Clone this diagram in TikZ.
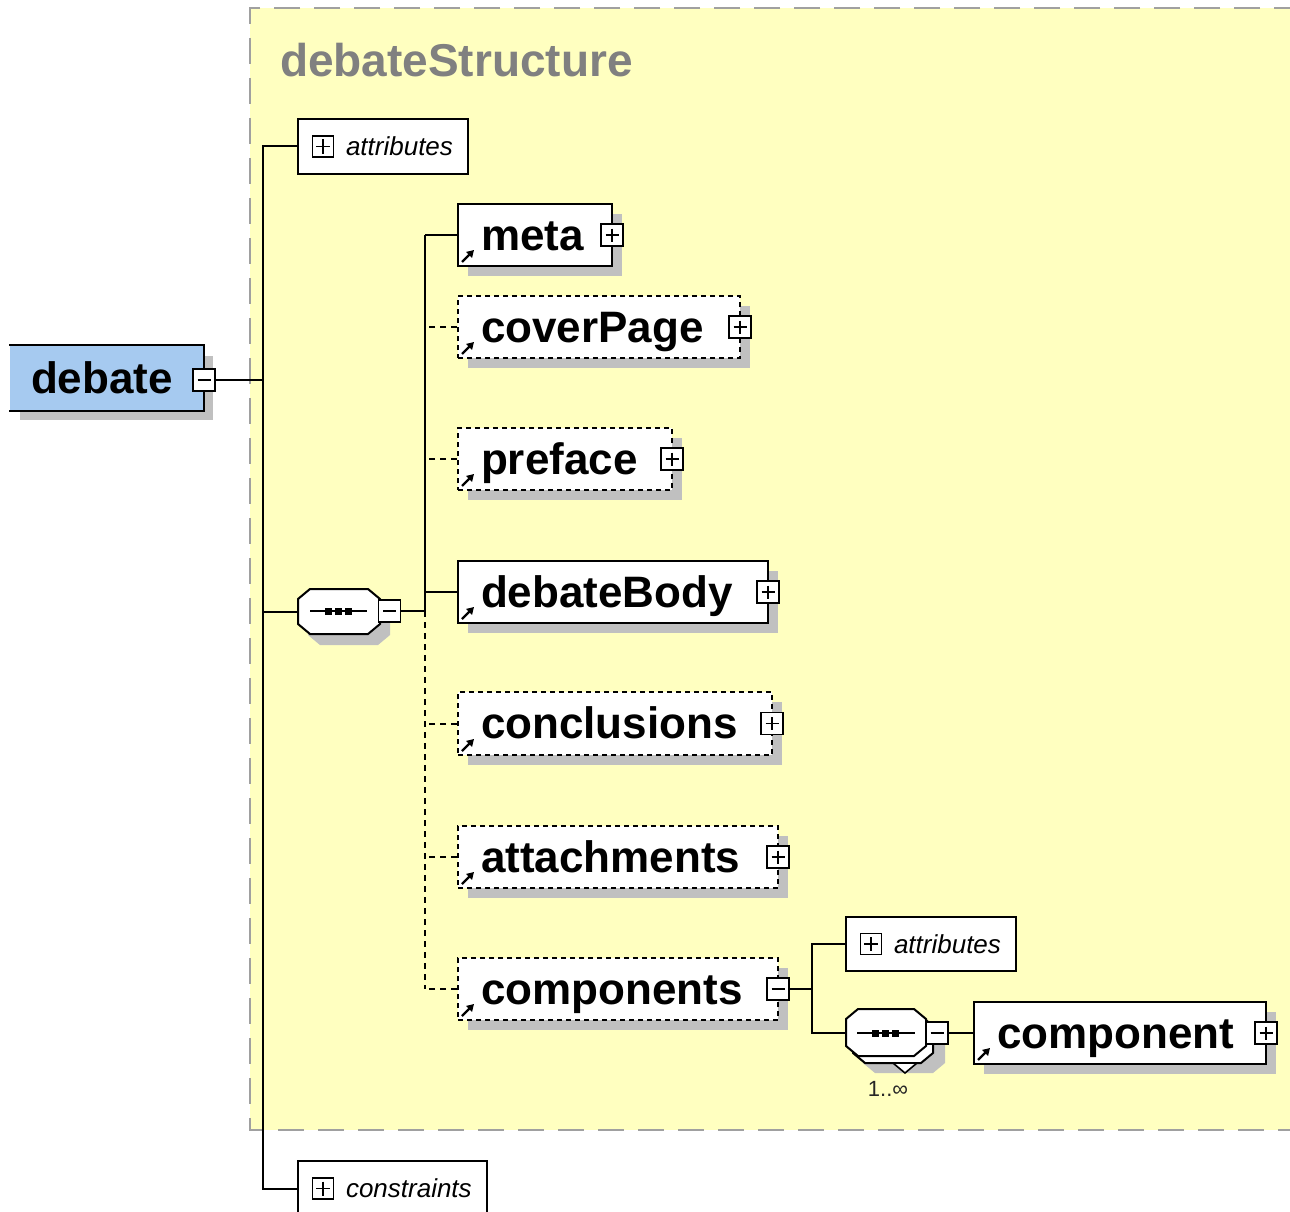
\documentclass[tikz,border=0pt]{standalone}
\usepackage{fontspec}
\setmainfont{Liberation Sans}
\usetikzlibrary{arrows.meta}
\definecolor{ylw}{RGB}{255,255,192}
\definecolor{shd}{RGB}{192,192,192}
\definecolor{blu}{RGB}{166,202,240}
\definecolor{brd}{RGB}{160,160,160}
\definecolor{ttl}{RGB}{128,128,128}
\tikzset{
  etext/.style={font=\fontsize{44}{50}\selectfont\bfseries, inner sep=0},
  ttext/.style={font=\fontsize{46}{50}\selectfont\bfseries, text=ttl, inner sep=0},
  atext/.style={font=\fontsize{26}{30}\selectfont\itshape, inner sep=0},
  ctext/.style={font=\fontsize{22}{24}\selectfont, text=black!85, inner sep=0},
  ebox/.style={draw, fill=white, inner sep=0, line width=2pt},
  solidbox/.style={},
  dashbox/.style={dash pattern=on 5pt off 4pt},
  dsh/.style={dash pattern=on 6pt off 5pt},
  pmbox/.style={draw, fill=white, minimum size=22pt, inner sep=0, line width=1.8pt},
  conn/.style={line width=2pt},
  icon/.style={line width=2.2pt, -{Triangle[length=7pt,width=8pt]}},
}
\newcommand\pmark[4]{%
  \node[pmbox] (#1) at (#2,#3) {};
  \draw[line width=1.8pt] (#1.center) +(-6.5,0) -- +(6.5,0);
  \ifnum#4=1 \draw[line width=1.8pt] (#1.center) +(0,-6.5) -- +(0,6.5);\fi
}
\newcommand\elembox[8]{%
  \fill[shd] (#2+10,#3+10) rectangle (#4+10,#5+10);
  \node[ebox,#6,minimum width={(#4)-(#2)},minimum height={(#5)-(#3)}] (#1) at ({((#2)+(#4))/2},{((#3)+(#5))/2}) {};
  \node[etext,anchor=base west] (#1-t) at ({(#2)+22},{((#3)+(#5))/2+15}) {#7};
  \draw[icon] ({(#2)+4},{(#5)-4}) -- ++(12,-12);
  \pmark{#1-pm}{#4}{{((#3)+(#5))/2}}{#8}
}
\newcommand\attrbox[6]{%
  \node[draw, fill=white, inner sep=0, line width=2pt, minimum width={(#4)-(#2)}, minimum height={(#5)-(#3)}] (#1) at ({((#2)+(#4))/2},{((#3)+(#5))/2}) {};
  \node[pmbox, minimum size=21pt] (#1-pm) at ({(#2)+25},{((#3)+(#5))/2}) {};
  \draw[line width=1.8pt] (#1-pm.center) +(-7,0) -- +(7,0) +(0,-7) -- +(0,7);
  \node[atext, anchor=base west] (#1-t) at ({(#2)+47},{((#3)+(#5))/2+9}) {#6};
}
\newcommand\octa[5]{%
  \draw[#5] (#1+12,#2) -- (#3-12,#2) -- (#3,#2+10) -- (#3,#4-10) -- (#3-12,#4) -- (#1+12,#4) -- (#1,#4-10) -- (#1,#2+10) -- cycle;
}
\newcommand\seqline[4]{% x1 x2 y dotx
  \draw[line width=1.8pt] (#1,#3) -- (#2,#3);
  \foreach \dx in {0,10,20} {\fill ({#4+\dx-3.5},{#3-3.5}) rectangle ({#4+\dx+3.5},{#3+3.5});}
}
\begin{document}
\begin{tikzpicture}[x=1pt,y=-1pt, line width=2pt]
\useasboundingbox (0,0) rectangle (1290,1212);
\clip (0,0) rectangle (1290,1212);
\fill[white] (0,0) rectangle (1290,1212);
% yellow region
\fill[ylw] (250,8) rectangle (1300,1130);
\draw[brd, line width=2pt, dash pattern=on 26pt off 14pt] (1300,8) -- (250,8) -- (250,1130) -- (1300,1130);
\node[ttext, anchor=base west] (title) at (279,77) {debateStructure};

% debate root
\fill[shd] (20,356) rectangle (213,420);
\node[fill=blu, minimum width=193, minimum height=64, inner sep=0] (debate) at (106.5,378) {};
\draw (debate.north west) -- (debate.north east) -- (debate.south east) -- (debate.south west);
\node[etext, anchor=base west] (debate-t) at (30,393) {debate};
\pmark{debate-pm}{204}{380}{0}

% top-level attributes / constraints
\attrbox{attr1}{298}{119}{468}{174}{attributes}
\attrbox{constr}{298}{1161}{487}{1216}{constraints}

% sequence 1
\octa{308}{600}{390}{645}{fill=shd,draw=none}
\octa{298}{589}{380}{634}{fill=white,draw=black,line width=2pt}
\node[inner sep=0, minimum width=82, minimum height=45] (seq1) at (339,611.5) {};
\seqline{310}{367}{611}{328}
\pmark{seq1-pm}{389.5}{611}{0}

% elements
\elembox{meta}{458}{204}{612}{266}{solidbox}{meta}{1}
\elembox{coverPage}{458}{296}{740}{358}{dashbox}{coverPage}{1}
\elembox{preface}{458}{428}{672}{490}{dashbox}{preface}{1}
\elembox{debateBody}{458}{561}{768}{623}{solidbox}{debateBody}{1}
\elembox{conclusions}{458}{692}{772}{755}{dashbox}{conclusions}{1}
\elembox{attachments}{458}{826}{778}{888}{dashbox}{attachments}{1}
\elembox{components}{458}{958}{778}{1020}{dashbox}{components}{0}

% components subtree
\attrbox{attr2}{846}{917}{1016}{971}{attributes}
% sequence 2 (repeated)
\octa{863}{1026}{945}{1073}{fill=shd,draw=none}
\octa{853}{1016}{933}{1063}{fill=white,draw=black,line width=2pt}
\draw[fill=white, line width=1.6pt] (893,1063) -- (917,1063) -- (905,1073) -- cycle;
\octa{846}{1009}{926}{1056}{fill=white,draw=black,line width=2pt}
\node[inner sep=0, minimum width=80, minimum height=47] (seq2) at (886,1033) {};
\seqline{857}{915}{1033}{875}
\pmark{seq2-pm}{937}{1033}{0}
\node[ctext] (mult) at (888,1089) {1..∞};
\elembox{component}{974}{1002}{1266}{1064}{solidbox}{component}{1}

% connectors
\coordinate (j1) at (263,146.5);
\coordinate (j2) at (263,1188.5);
\draw[conn] (attr1.west) -- (j1) -- (j2) -- (constr.west);
\draw[conn] (debate-pm.east) -- (debate-pm.east -| j1);
\draw[conn] (seq1.west) -- (seq1.west -| j1);
\coordinate (c1) at (425,611);
\coordinate (ctop) at (425,235);
\coordinate (cbot) at (425,989);
\draw[conn] (seq1-pm.east) -- (c1);
\draw[conn] (ctop) -- (c1);
\draw[conn, dsh] (c1) -- (cbot);
\draw[conn] (meta.west) -- (meta.west -| c1);
\draw[conn] (debateBody.west) -- (debateBody.west -| c1);
\foreach \n in {coverPage,preface,conclusions,attachments,components}
  \draw[conn, dsh] (\n.west) -- (\n.west -| c1);
\coordinate (k1) at (812,944);
\coordinate (k2) at (812,1033);
\draw[conn] (components-pm.east) -- (components-pm.east -| k1);
\draw[conn] (attr2.west) -- (k1) -- (k2) -- (seq2.west);
\draw[conn] (seq2-pm.east) -- (component.west);
\end{tikzpicture}
\end{document}
